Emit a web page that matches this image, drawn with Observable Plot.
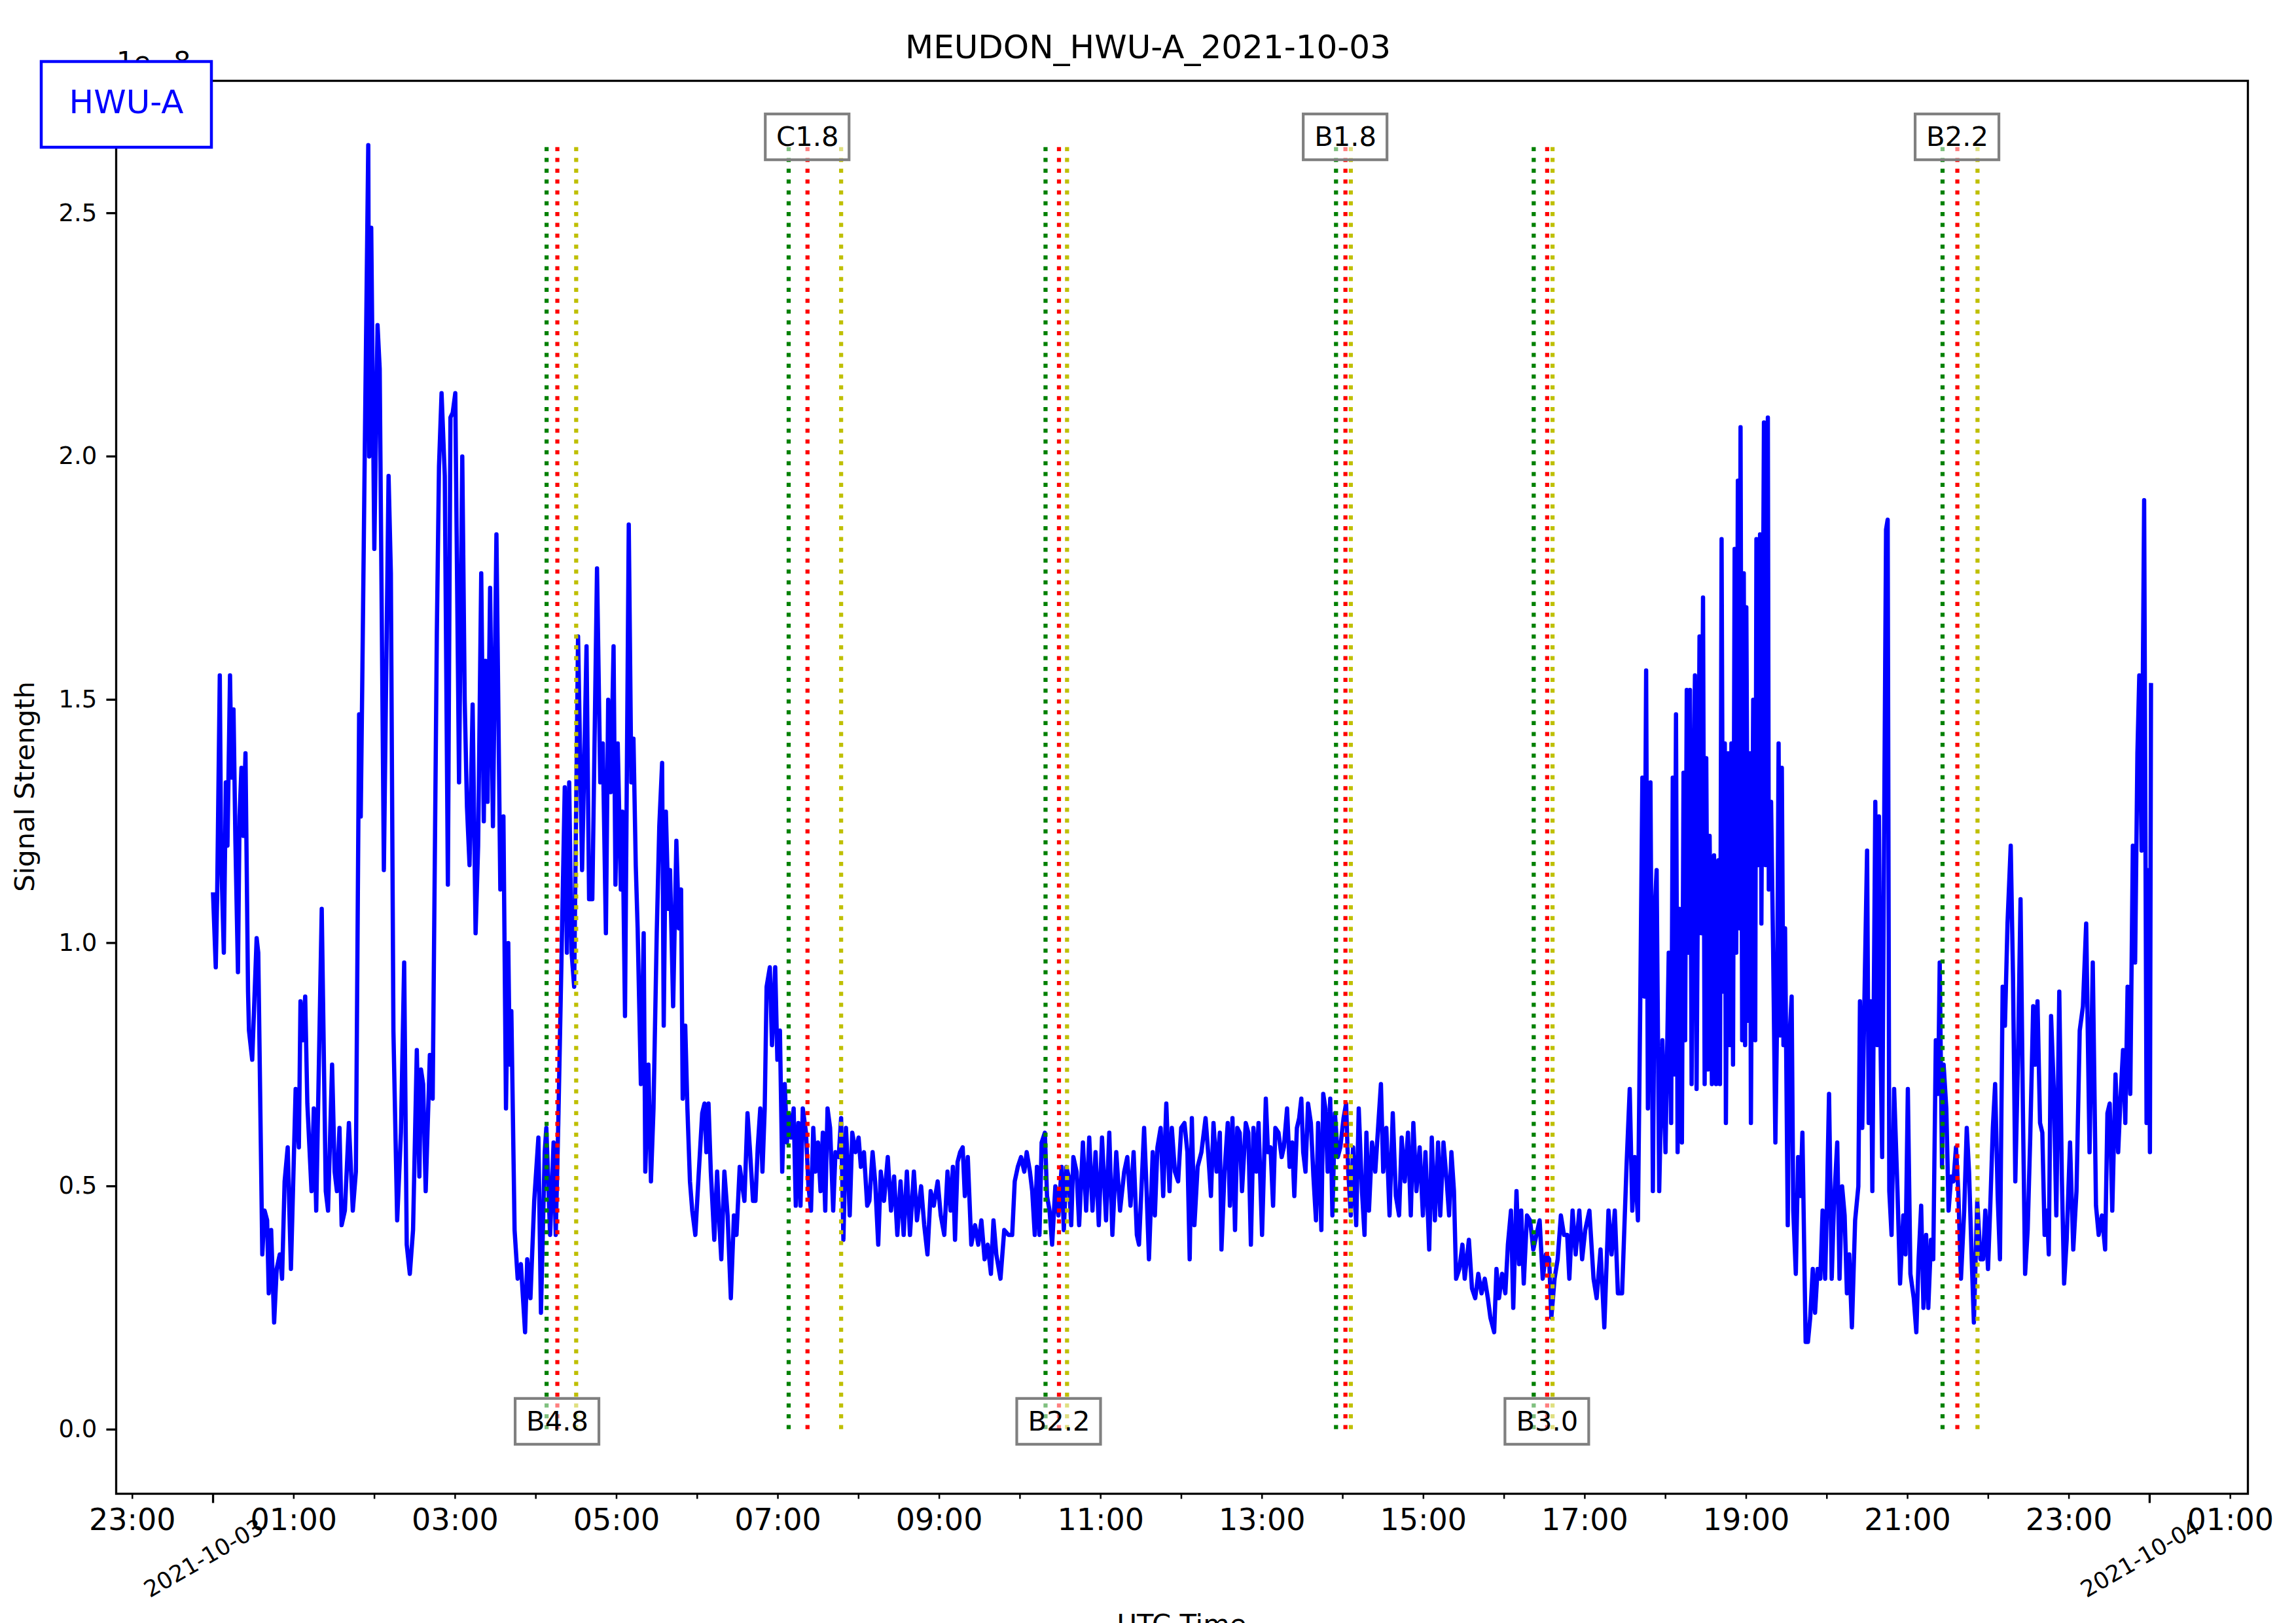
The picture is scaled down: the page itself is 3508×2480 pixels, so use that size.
<!DOCTYPE html>
<html><head><meta charset="utf-8">
<script src="https://cdn.jsdelivr.net/npm/d3@7"></script>
<script src="https://cdn.jsdelivr.net/npm/@observablehq/plot@0.6"></script>
<style>
html,body{margin:0;padding:0;background:#fff;overflow:hidden;width:3508px;height:2480px;}
#wrap{position:relative;width:3508px;height:2480px;}
</style></head><body><div id="wrap"></div>
<script>
// ---- data (minutes after 2021-10-03 00:00 UTC, signal strength in units of 1e-8) ----
const minutes = [
0,2,3,5,6,8,9.5,10.7,12.6,13.8,15.2,16.6,18.5,19.7,21.1,22.5,24.1,26,26.7,29.1,32.4,33.6,36.6,38.3,40.2,41.4,43.2,45.4,47.3,49.6,
51.3,53.2,55.5,57.9,61.4,63.8,65,66.8,68.5,70.1,73.2,74.9,76.7,80.8,83.8,85.5,88.5,90.4,92.1,94,95.6,98,101,103.9,106.2,108.6,109.8,111,112.8,115.4,
116.1,117.6,119.9,122.3,123.9,127,130.5,132.2,134.1,136.9,139.7,142.1,144,146.3,148.7,151.5,153.4,154.6,156.2,158.1,161.2,163.3,166.4,168,169.9,172.3,174.6,176.5,178.2,180.1,
182.9,185.3,187.1,188.8,190.7,193,195.2,197.1,199.4,201.3,202.5,204.1,206,208.1,210.7,213.6,215.9,217.8,219.5,220.6,221.8,224.2,226.5,228.9,232,233.6,236,238.8,241.9,243.8,
246.6,247.8,250.6,253.2,254.8,256.7,259.1,261.5,263.1,264.8,266.6,268.5,271.4,274.4,277.7,279.6,282,285.5,287.9,289.8,292.1,293.8,295.7,297.8,299.2,300.9,303.2,304.4,306.3,309.1,
311,312.6,314.3,315.7,318.1,320.2,321.4,323.7,325.6,327.5,329.9,331.8,333.9,335.1,336.7,338.6,339.8,342.1,344.5,346.4,348,349.2,351.1,352.7,354.6,356.3,358.6,361,
363.7,365.4,366.8,368.4,370.1,372.7,374.8,376.7,377.9,380.2,382.6,385,387.3,389.2,391.6,395.1,397.4,399.1,401.5,403.3,405,406.9,408.5,410.2,411.6,414,415.6,418,419.6,421.5,
423.2,425.1,426.7,428.1,429.8,431.7,433.3,435.2,436.8,438.5,440.9,442.7,444.6,446.3,447.9,449.8,451.7,453.4,455.2,456.9,458.8,461.1,462.8,465.2,467,468.7,470.6,472.2,473.4,475.3,
477.7,480,481.7,484,486.4,488,490.4,492.3,494.6,496.5,498.9,501.7,504.1,506.4,508.8,511.2,513.5,515.9,518.2,521.1,523.4,526.5,528.8,531.2,533.6,535.9,538.8,541.1,543.7,546.1,
548.4,550.1,551.7,553.6,555.5,557.4,559,561.2,563.8,566.6,569,571.3,573.7,576,578.4,580.3,582.4,585.5,588.3,591.4,594.2,596.1,598.4,600.8,603.2,605,607.4,609.1,611,612.6,
614.5,616.1,618.5,620.1,622,623.9,626.3,628.6,631,632.6,634.5,636.2,638.1,639.7,642.1,644,646.8,649.2,651.5,653.9,656.2,658.6,661,664,666.4,668.7,671.6,674.4,677.5,679.8,
682.2,684.5,686.9,688.5,692.3,693.9,695.9,698.7,700.3,702.2,704.6,706.5,708.8,711.2,712.9,715.2,717.6,719.9,722.3,
724.5,726.2,727.8,729.7,732.1,734.9,738,739.9,742,743.9,746.2,748.6,749.8,752.1,754.5,756.1,758,759.9,761.6,763.4,765.1,767.9,769.8,771.7,773.6,775.7,777.4,780,782.8,784.4,
786.3,788.2,789.9,792.2,794.6,796.2,798.6,800.5,802.4,804,805.9,807.6,809.2,810.6,812.3,814.2,816.3,818.2,820.1,821.7,824.1,825.5,827.1,828.8,830.7,832.3,834.2,836.3,838.2,840.6,
842.5,844.1,846,847.7,850,851.9,854.3,856.2,857.6,859.5,861.8,864.2,866.5,868.4,870.1,872.4,874.8,877.2,879.5,881.9,883.8,886.1,888.5,890.6,892.5,894.8,897.2,899.6,901.5,904.3,
906.2,908.5,910.9,912.5,914.9,917.3,919.1,920.8,922.7,924.3,926.7,929,930.7,933.8,936.1,938.5,940.8,943.2,945.6,947.9,949.8,952.6,954.3,956.2,958.5,960.9,962.8,965.1,966.8,969.2,
971.1,972.7,974.6,977,979.3,981.7,984,986.4,988.7,991.1,993.5,995.1,997.5,999.8,1002.2,1004.5,1006.9,1008.5,1010.9,1013.2,1015.9,1018,1020.3,1023.4,1026.5,1028.8,1031.7,1034.5,1037.6,1039.9,
1042.3,1044.6,1047.7,1051,1053.4,1055.3,1057.1,1059.5,1061.2,1062.8,1064.2,1065.6,1066.9,1068.8,1070.6,1072.2,1073.4,1075.3,1077.7,1080,1082.4,
1084.2,1085.4,1086.6,1087.8,1089,1090.3,1092.2,1093.4,1094.6,1095.8,1097,1098.2,1099.4,1100.7,1101.9,1103.1,1104.3,1105.3,1106.5,1107.9,1109.1,1110.3,1111.6,1112.8,1114.5,1116.1,1117.6,1119.3,1120.5,1121.7,
1122.9,1124.1,1124.9,1126.6,1127.8,1129,1130.2,1131.4,1132.6,1133.8,1135,1135.8,1137,1138.2,1139.2,1140.1,1141.6,1142.8,1143.5,1145.2,1146.7,1147.6,1148.8,1150.3,1151.3,1153.2,1154.4,1156.1,1156.8,1158.5,
1160,1161.7,1162.9,1164.1,1165.3,1166.5,1167.7,1168.9,1170.9,1172.1,1173.8,1175,1176.9,1178.6,1180.3,1181.8,1184.2,1185.9,1187.6,1189.5,1191.2,1193.1,1195.1,1196.8,1198.7,1199.9,1201.6,1203.6,1205.2,1207.7,
1209.4,1211.3,1213.2,1214.9,1216.6,1218.6,1221,1223.4,1224.6,1226.3,1228.2,1229.9,1231.1,1232.6,1233.8,1236,1237.4,1238.7,1239.9,1241.1,1242.8,1244,1245.2,1246.4,1248.1,1250,1252.5,1254.4,1256.8,1258.5,
1260.2,1262.1,1264.6,1266.5,1268.2,1270.1,1271.8,1273.8,1275.4,1277.4,1279.1,1281,1282.7,1283.9,1285.6,1286.8,1288.8,1290.5,1292.4,1294.1,1296,1297.7,1299.7,1302.1,1304,1305.7,1307.7,1309.3,1311.8,1314.2,
1316.1,1317.8,1319.8,1321.5,1323.4,1325.1,1327,1328.7,1330.7,1332.4,1334.3,1336.7,1338.4,1340.1,1342,1344,1345.7,1347.4,1349.3,1351.2,1353.4,1354.9,1356.6,1358.5,1360.2,1361.9,1363.8,1365,1366.7,1368.7,
1370.6,1372.8,1374.7,1376.4,1378.3,1380.8,1383.2,1385.6,1388,1390.4,1392.8,1395.3,1397.7,1400.1,1402.1,1404.5,1406.9,1408.6,1410.3,1412.2,1414.6,1416.6,1418.3,1420.2,1421.9,1423.6,1425.6,1427.5,1429.2,1430.9,
1432.3,1434,1435.9,1437.7,1439.4,1440.2,1441
];
const values = [
1.10,0.95,1.09,1.55,1.18,0.98,1.33,1.20,1.55,1.34,1.48,1.21,0.94,1.26,1.36,1.22,1.39,0.90,0.82,0.76,1.01,0.98,0.36,0.45,0.43,0.28,0.41,0.22,0.33,0.36,
0.31,0.51,0.58,0.33,0.70,0.58,0.88,0.80,0.89,0.67,0.49,0.66,0.45,1.07,0.49,0.45,0.75,0.53,0.49,0.62,0.42,0.45,0.63,0.45,0.53,1.47,1.26,1.55,2.01,2.64,
2.00,2.47,1.81,2.27,2.18,1.15,1.96,1.76,0.82,0.43,0.61,0.96,0.38,0.32,0.41,0.78,0.52,0.74,0.71,0.49,0.77,0.68,1.64,1.98,2.13,1.96,1.12,2.08,2.09,2.13,
1.33,2.00,1.50,1.28,1.16,1.49,1.02,1.20,1.76,1.25,1.58,1.29,1.73,1.24,1.84,1.11,1.26,0.66,1.00,0.75,0.86,0.41,0.31,0.34,0.20,0.35,0.27,0.47,0.60,0.24,
0.57,0.62,0.40,0.59,0.40,0.63,0.97,1.32,0.98,1.33,0.98,0.91,1.63,1.15,1.61,1.09,1.09,1.77,1.33,1.41,1.02,1.50,1.31,1.61,1.12,1.41,1.11,1.27,0.85,1.86,
1.33,1.42,1.16,1.03,0.71,1.02,0.53,0.75,0.51,0.66,1.02,1.24,1.37,0.83,1.27,1.07,1.15,0.87,1.21,1.03,1.11,0.68,0.83,0.66,0.51,0.45,0.40,0.52,
0.65,0.67,0.57,0.67,0.53,0.39,0.53,0.41,0.35,0.53,0.44,0.27,0.44,0.40,0.54,0.47,0.65,0.58,0.47,0.47,0.58,0.66,0.53,0.66,0.91,0.95,0.79,0.95,0.76,0.82,
0.53,0.71,0.59,0.65,0.60,0.66,0.46,0.63,0.46,0.66,0.61,0.50,0.45,0.62,0.53,0.59,0.49,0.61,0.45,0.66,0.62,0.45,0.57,0.56,0.64,0.39,0.62,0.53,0.44,0.61,
0.57,0.60,0.54,0.57,0.46,0.47,0.57,0.51,0.38,0.53,0.47,0.56,0.45,0.52,0.40,0.51,0.40,0.53,0.40,0.53,0.43,0.50,0.42,0.36,0.49,0.46,0.51,0.44,0.40,0.53,
0.45,0.54,0.39,0.55,0.57,0.58,0.48,0.56,0.38,0.42,0.38,0.43,0.35,0.38,0.32,0.43,0.36,0.31,0.41,0.40,0.40,0.51,0.54,0.56,0.53,0.57,0.53,0.49,0.40,0.54,
0.40,0.59,0.61,0.48,0.45,0.38,0.50,0.44,0.54,0.41,0.54,0.52,0.42,0.56,0.53,0.42,0.59,0.45,0.60,0.45,0.57,0.42,0.60,0.43,0.61,0.40,0.57,0.45,0.53,0.56,
0.46,0.57,0.40,0.38,0.62,0.51,0.35,0.57,0.44,0.58,0.62,0.48,0.67,0.49,0.62,0.53,0.51,0.62,0.63,
0.57,0.35,0.64,0.42,0.54,0.57,0.64,0.57,0.48,0.63,0.53,0.61,0.37,0.53,0.63,0.46,0.64,0.41,0.62,0.61,0.49,0.63,0.61,0.38,0.62,0.53,0.63,0.40,0.68,0.57,
0.58,0.46,0.62,0.61,0.56,0.58,0.66,0.54,0.59,0.48,0.62,0.64,0.68,0.57,0.53,0.67,0.63,0.52,0.43,0.63,0.41,0.69,0.66,0.53,0.68,0.44,0.65,0.56,0.58,0.64,
0.67,0.53,0.44,0.58,0.42,0.66,0.49,0.40,0.61,0.45,0.59,0.53,0.63,0.71,0.53,0.62,0.44,0.65,0.48,0.44,0.60,0.51,0.61,0.44,0.63,0.49,0.58,0.44,0.57,0.37,
0.60,0.43,0.59,0.44,0.59,0.51,0.44,0.57,0.49,0.31,0.33,0.38,0.31,0.39,0.29,0.27,0.32,0.28,0.31,0.27,0.23,0.20,0.33,0.27,0.32,0.28,0.38,0.45,0.25,0.49,
0.34,0.45,0.30,0.44,0.43,0.37,0.40,0.43,0.31,0.36,0.35,0.23,0.31,0.35,0.44,0.40,0.40,0.31,0.45,0.36,0.45,0.35,0.41,0.45,0.31,0.27,0.37,0.21,0.45,0.36,
0.45,0.28,0.28,0.54,0.70,0.45,0.56,0.43,0.87,1.34,0.89,1.56,0.66,1.33,0.49,1.08,1.15,0.49,0.80,0.57,0.98,
0.63,1.34,0.73,1.47,0.57,1.07,0.59,1.35,0.80,1.52,0.98,1.52,0.71,1.23,1.55,0.70,1.20,1.63,1.02,1.71,0.71,1.38,0.74,1.22,0.71,1.18,0.71,1.17,0.71,1.83,
0.90,1.41,0.63,1.39,0.79,1.41,0.75,1.81,0.98,1.95,1.03,2.06,0.80,1.76,0.79,1.69,0.84,1.39,0.63,1.50,0.80,1.83,1.16,1.84,1.04,2.07,1.16,2.08,1.11,1.29,
0.99,0.59,0.83,1.41,0.81,1.36,0.79,1.03,0.42,0.80,0.89,0.45,0.32,0.56,0.48,0.61,0.18,0.18,0.23,0.33,0.24,0.33,0.31,0.45,0.31,0.45,0.69,0.31,0.46,0.59,
0.31,0.50,0.44,0.28,0.36,0.21,0.43,0.50,0.88,0.62,0.93,1.19,0.63,0.88,0.49,1.29,0.79,1.26,0.79,0.56,1.33,1.85,1.87,0.49,0.40,0.70,0.49,0.30,0.44,0.36,
0.70,0.32,0.27,0.20,0.35,0.46,0.25,0.40,0.25,0.39,0.35,0.80,0.69,0.96,0.54,0.75,0.66,0.45,0.52,0.51,0.58,0.49,0.31,0.45,0.62,0.53,0.35,0.22,0.47,0.35,
0.35,0.45,0.33,0.46,0.62,0.71,0.48,0.35,0.91,0.83,1.04,1.20,0.93,0.51,0.75,1.09,0.67,0.32,0.41,0.60,0.87,0.75,0.88,0.63,0.61,0.40,0.45,0.36,0.85,0.70,
0.44,0.90,0.52,0.30,0.39,0.59,0.37,0.49,0.82,0.87,1.04,0.57,0.96,0.46,0.40,0.44,0.37,0.65,0.67,0.45,0.73,0.57,0.68,0.78,0.63,0.91,0.69,1.20,0.96,1.39,
1.55,1.19,1.91,0.63,1.15,0.57,1.53
];
// ---- flare events ----
const flareClass = ["B4.8","C1.8","B2.2","B1.8","B3.0","B2.2"];
const flareStart = ["04:08","07:08","10:19","13:55","16:22","21:26"];
const flarePeak  = ["04:16","07:22","10:29","14:02","16:32","21:37"];
const flareEnd   = ["04:30","07:47","10:35","14:06","16:36","21:52"];
const flareLabelSide = ["bottom","top","bottom","top","bottom","top"];
// ---- ticks / texts ----
const yTicks = [0, 0.5, 1.0, 1.5, 2.0, 2.5];
const dayTicks = ["2021-10-03","2021-10-04"];
const titleText = "MEUDON_HWU-A_2021-10-03";
const stationText = "HWU-A";
const yLabelText = "Signal Strength";
const xLabelText = "UTC Time";
const offsetText = "1e\u22128";

const day0 = Date.UTC(2021, 9, 3);
const series = minutes.map((m, i) => ({t: new Date(day0 + m * 60000), v: values[i]}));
const hm = s => { const [h, m] = s.split(":").map(Number); return new Date(day0 + (h * 60 + m) * 60000); };

const vMax = d3.max(values);
const ext = d3.extent(series, d => d.t);
const xPad = (ext[1] - ext[0]) * 0.05;
const xDomain = [new Date(+ext[0] - xPad), new Date(+ext[1] + xPad)];
const yPad = (vMax - 0) * 0.05;
const yDomain = [0 - yPad, vMax + yPad];

const flareLines = [];
flareClass.forEach((c, i) => {
  flareLines.push({t: hm(flareStart[i]), color: "#008000"});
  flareLines.push({t: hm(flarePeak[i]), color: "#ff0000"});
  flareLines.push({t: hm(flareEnd[i]), color: "#bfbf00"});
});
const flareLabels = flareClass.map((c, i) => ({t: hm(flarePeak[i]), y: flareLabelSide[i] === "top" ? vMax : 0, label: c}));

const dayDates = dayTicks.map(s => new Date(s + "T00:00:00Z"));
const dayLabelData = dayTicks.map((s, i) => ({t: dayDates[i], label: s}));
const hourTicks = d3.utcHour.range(xDomain[0], xDomain[1]).filter(d => d.getUTCHours() !== 0);

const W = 3508, H = 2480, mL = 177, mR = 74, mT = 123, mB = 198;
const FONT = "DejaVu Sans";

const chart = Plot.plot({
  width: W, height: H,
  marginLeft: mL, marginRight: mR, marginTop: mT, marginBottom: mB,
  style: {fontFamily: FONT, background: "white", color: "black"},
  x: {type: "utc", domain: xDomain},
  y: {domain: yDomain},
  color: {type: "identity"},
  marks: [
    Plot.line(series, {x: "t", y: "v", stroke: "#0000ff", strokeWidth: 6.5, strokeLinejoin: "round", strokeLinecap: "square"}),
    Plot.ruleX(flareLines, {x: "t", y1: 0, y2: vMax, stroke: "color", strokeWidth: 6.25, strokeDasharray: "6.25,10.3"}),
    Plot.rect(flareLabels, {x1: "t", x2: "t", y1: "y", y2: "y", insetLeft: -64, insetRight: -64, insetTop: -35, insetBottom: -35,
      fill: "white", fillOpacity: 0.5, stroke: "#808080", strokeWidth: 4.2, dy: -12}),
    Plot.text(flareLabels, {x: "t", y: "y", text: "label", fontSize: 41.7, fill: "black", lineAnchor: "middle", dy: -12}),
    Plot.frame({stroke: "black", strokeWidth: 3.3}),
    Plot.axisY({ticks: yTicks, tickSize: 14.6, tickPadding: 14.6, fontSize: 37, tickFormat: d => d.toFixed(1), label: null, strokeWidth: 3.3}),
    Plot.axisX({ticks: hourTicks, tickSize: 8.3, tickPadding: 14.6, fontSize: 46,
      tickFormat: d => d.getUTCHours() % 2 === 1 ? d3.utcFormat("%H:%M")(d) : "", label: null, strokeWidth: 2.5}),
    Plot.axisX({ticks: dayDates, tickSize: 14.6, tickFormat: () => "", label: null, strokeWidth: 3.3}),
    Plot.text(dayLabelData, {x: "t", frameAnchor: "bottom", dy: 99, dx: -14, rotate: -30, text: "label", fontSize: 35,
      textAnchor: "middle", lineAnchor: "middle", fill: "black"})
  ]
});
document.getElementById("wrap").appendChild(chart);

// ---- figure-level texts ----
const svg = d3.select(chart);
svg.append("text").attr("x", 1754).attr("y", 89).attr("text-anchor", "middle")
  .attr("font-family", FONT).attr("font-size", 50).attr("fill", "black").text(titleText);
svg.append("text").attr("transform", "translate(52,1202) rotate(-90)").attr("text-anchor", "middle")
  .attr("font-family", FONT).attr("font-size", 41.7).attr("fill", "black").text(yLabelText);
svg.append("text").attr("x", (mL + W - mR) / 2).attr("y", 2496).attr("text-anchor", "middle")
  .attr("font-family", FONT).attr("font-size", 41.7).attr("fill", "black").text(xLabelText);
svg.append("text").attr("x", 178).attr("y", 108).attr("text-anchor", "start")
  .attr("font-family", FONT).attr("font-size", 41.7).attr("fill", "black").text(offsetText);
svg.append("rect").attr("x", 63).attr("y", 94).attr("width", 260).attr("height", 131)
  .attr("fill", "white").attr("stroke", "#0000ff").attr("stroke-width", 4.5);
svg.append("text").attr("x", 193).attr("y", 173).attr("text-anchor", "middle")
  .attr("font-family", FONT).attr("font-size", 50).attr("fill", "#0000ff").text(stationText);
</script>
</body></html>
